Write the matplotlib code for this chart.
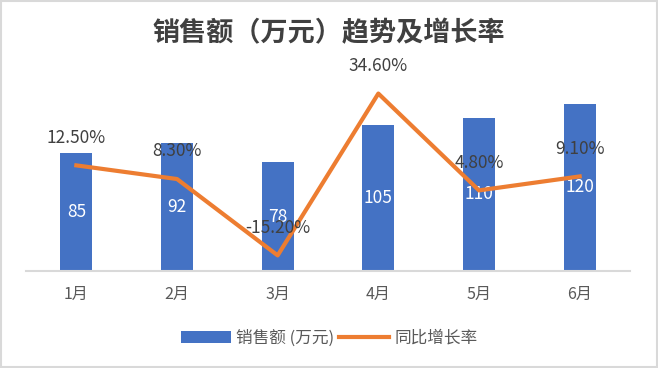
import matplotlib.pyplot as plt
from matplotlib.patches import Rectangle

plt.rcParams['font.family'] = ['Noto Sans CJK SC', 'DejaVu Sans']

months = ['1月', '2月', '3月', '4月', '5月', '6月']
sales = [85, 92, 78, 105, 110, 120]
growth = [12.5, 8.3, -15.2, 34.6, 4.8, 9.1]

fig = plt.figure(figsize=(6.58, 3.68), dpi=100)
ax = fig.add_axes([26 / 658, 1 - 271 / 368, 604 / 658, 195 / 368])
x = list(range(len(months)))

bars = ax.bar(x, sales, width=0.32, color='#4472C4', label='销售额 (万元)', zorder=2)
ax.set_xlim(-0.5, len(months) - 0.5)
ax.set_ylim(0, 140)
ax.set_yticks([])
for s in ['top', 'left', 'right']:
    ax.spines[s].set_visible(False)
ax.spines['bottom'].set_color('#D9D9D9')
ax.spines['bottom'].set_linewidth(1.5)
ax.set_xticks(x)
ax.set_xticklabels(months, fontsize=11.5, color='#595959')
ax.tick_params(axis='x', length=0, pad=11)

for xi, v in zip(x, sales):
    ax.text(xi, v / 2, str(v), ha='center', va='center', color='white', fontsize=12.5)

ax2 = ax.twinx()
line, = ax2.plot(x, growth, color='#ED7D31', linewidth=3, label='同比增长率', zorder=3)
ax2.set_ylim(-20, 40)
ax2.set_yticks([])
for s in ax2.spines.values():
    s.set_visible(False)

for xi, g in zip(x, growth):
    ax2.annotate(f'{g:.2f}%', (xi, g), xytext=(0, 20), textcoords='offset points',
                 ha='center', va='center', fontsize=12.5, color='#404040')

fig.text(0.5, 1 - 33 / 368, '销售额（万元）趋势及增长率', ha='center', va='center',
         fontsize=19.5, fontweight='bold', color='#404040')

fig.legend([bars, line], ['销售额 (万元)', '同比增长率'], loc='center',
           bbox_to_anchor=(0.5, 1 - 338 / 368), ncol=2, frameon=False,
           fontsize=12, labelcolor='#595959', handlelength=3.0,
           columnspacing=0.3, handletextpad=0.3)

fig.patches.append(Rectangle((0.002, 0.003), 0.996, 0.994, transform=fig.transFigure,
                             fill=False, edgecolor='#D9D9D9', linewidth=1.5))

fig.savefig('out.png', dpi=100)
